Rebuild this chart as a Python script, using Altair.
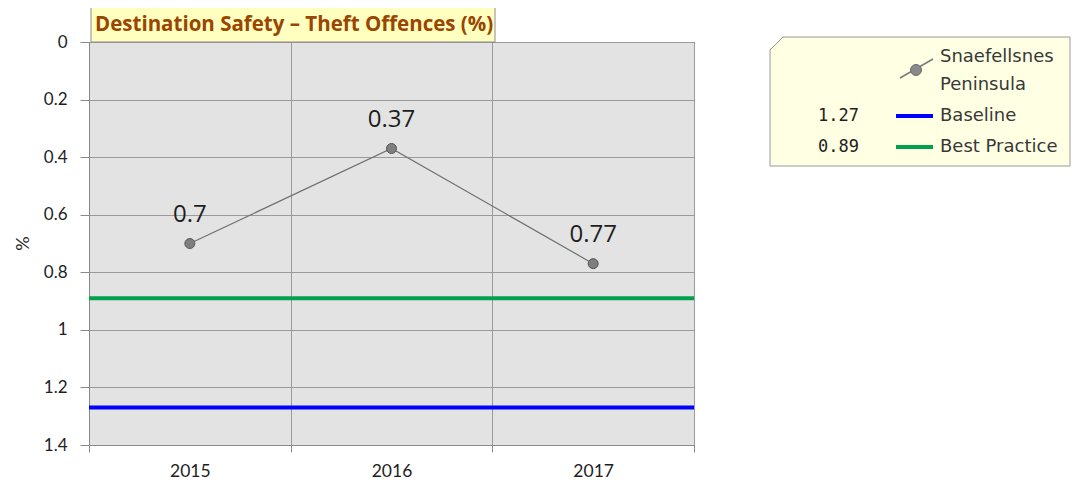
import altair as alt
import pandas as pd

# ---- data ----
YEARS = ["2015", "2016", "2017"]
VALUES = [0.7, 0.37, 0.77]
SERIES_NAME = ["Snaefellsnes", "Peninsula"]
REF_NAMES = ["Baseline", "Best Practice"]
REF_VALUES = [1.27, 0.89]
REF_COLORS = ["#0000FF", "#00A04C"]
Y_TICKS = [0, 0.2, 0.4, 0.6, 0.8, 1.0, 1.2, 1.4]
TITLE = ["Destination Safety – Theft Offences (%)"]
Y_TITLE = "%"

W, H = 605, 403
LX = -7  # legend horizontal shift

df = pd.DataFrame({"year": YEARS, "value": VALUES,
                   "label": [f"{v:g}" for v in VALUES]})
refs = pd.DataFrame({"name": REF_NAMES, "value": REF_VALUES})
one = pd.DataFrame({"k": [0]})

x_enc = alt.X(
    "year:N",
    scale=alt.Scale(type="band", domain=YEARS, paddingInner=0, paddingOuter=0),
    axis=alt.Axis(title=None, tickBand="extent", labelAngle=0, grid=True,
                  gridColor="#9a9a9a", gridWidth=1, domainColor="#8a8a8a",
                  tickColor="#8a8a8a", tickSize=7, labelPadding=10,
                  labelFont="Lato", labelFontSize=17.5, labelColor="#1e1e1e"),
)
y_axis = alt.Axis(values=Y_TICKS, format=".1~f", title=Y_TITLE, grid=True,
                  gridColor="#9a9a9a", gridWidth=1, domainColor="#8a8a8a",
                  tickColor="#8a8a8a", tickSize=9, labelPadding=13,
                  labelFont="Lato", labelFontSize=17, labelColor="#1e1e1e",
                  titleFont="Lato", titleFontSize=18, titleColor="#1e1e1e",
                  titleFontWeight="normal", titleX=-57, titleY=201)
y_scale = alt.Scale(domain=[0, 1.4], reverse=True, nice=False, zero=False)


def yenc(field="value:Q"):
    return alt.Y(field, scale=y_scale, axis=y_axis)


base = alt.Chart(df)

line = base.mark_line(color="#707070", strokeWidth=1.2).encode(x=x_enc, y=yenc())
pts = base.mark_point(filled=True, size=100, fill="#7f7f7f", stroke="#555555",
                      strokeWidth=1, opacity=1).encode(x=x_enc, y=yenc())
labels = base.mark_text(font="Open Sans", fontSize=24, color="#1e1e1e",
                        dy=-29, baseline="middle").encode(
    x=x_enc, y=yenc(), text="label:N")

rules = alt.Chart(refs).mark_rule(strokeWidth=4).encode(
    y=yenc(),
    color=alt.Color("name:N", scale=alt.Scale(domain=REF_NAMES, range=REF_COLORS),
                    legend=None),
)

# ---- title box ----
title_df = pd.DataFrame({"t": TITLE})
title_box = alt.Chart(title_df).mark_rect(fill="#FFFFC0", stroke="#8c8c8c",
                                         strokeWidth=1).encode(
    x=alt.value(2), x2=alt.value(406), y=alt.value(-35), y2=alt.value(0))
title_txt = alt.Chart(title_df).mark_text(font="Open Sans", fontSize=20.5,
                                          fontWeight="bold", color="#9A4500",
                                          align="left", baseline="middle").encode(
    x=alt.value(6), y=alt.value(-17), text="t:N")

# ---- legend ----
leg_box = alt.Chart(one).mark_rect(fill="#FFFFE3", stroke="#9a9a9a",
                                   strokeWidth=1).encode(
    x=alt.value(688 + LX), x2=alt.value(988 + LX), y=alt.value(-5), y2=alt.value(124))
leg_corner = alt.Chart(one).mark_point(shape="M-1,-1L1,-1L-1,1Z", filled=True,
                                       fill="white", size=196, opacity=1,
                                       strokeWidth=0).encode(
    x=alt.value(688 + LX + 6), y=alt.value(1))
leg_bevel = alt.Chart(one).mark_rule(color="#9a9a9a", strokeWidth=1).encode(
    x=alt.value(688 + LX), y=alt.value(8), x2=alt.value(701 + LX), y2=alt.value(-5))
leg_sym_line = alt.Chart(one).mark_rule(color="#7a7a7a", strokeWidth=1.5).encode(
    x=alt.value(818 + LX), y=alt.value(36), x2=alt.value(851 + LX), y2=alt.value(17))
leg_sym_pt = alt.Chart(one).mark_point(filled=True, size=120, fill="#8a8a8a",
                                       stroke="#666666", strokeWidth=1, opacity=1).encode(
    x=alt.value(834 + LX), y=alt.value(28))

leg_layers = [leg_box, leg_corner, leg_bevel, leg_sym_line, leg_sym_pt]
LEG_FONT = dict(font="DejaVu Sans", fontSize=18, color="#383838", align="left",
                baseline="middle")
for i, nm in enumerate(SERIES_NAME):
    leg_layers.append(
        alt.Chart(pd.DataFrame({"t": [nm]})).mark_text(**LEG_FONT).encode(
            x=alt.value(858 + LX), y=alt.value(15 + 28 * i), text="t:N"))
for i, (nm, val, col) in enumerate(zip(REF_NAMES, REF_VALUES, REF_COLORS)):
    yy = 74 + 31 * i
    leg_layers.append(
        alt.Chart(one).mark_rule(color=col, strokeWidth=4).encode(
            x=alt.value(814 + LX), x2=alt.value(851 + LX), y=alt.value(yy)))
    leg_layers.append(
        alt.Chart(pd.DataFrame({"t": [nm]})).mark_text(**LEG_FONT).encode(
            x=alt.value(858 + LX), y=alt.value(yy), text="t:N"))
    leg_layers.append(
        alt.Chart(pd.DataFrame({"t": [f"{val:g}"]})).mark_text(
            font="DejaVu Sans Mono", fontSize=17, color="#1e1e1e", align="right",
            baseline="middle").encode(x=alt.value(777 + LX), y=alt.value(yy),
                                      text="t:N"))

chart = alt.layer(rules, line, pts, labels, title_box, title_txt, *leg_layers).properties(
    width=W, height=H,
    autosize=alt.AutoSizeParams(type="none"),
    padding={"left": 81, "top": 34, "right": 377, "bottom": 34},
    background="white",
).configure_view(
    fill="#E3E3E3", stroke="#333333", strokeWidth=1
)

chart.save("out.html", embed_options={"renderer": "svg", "actions": False})
